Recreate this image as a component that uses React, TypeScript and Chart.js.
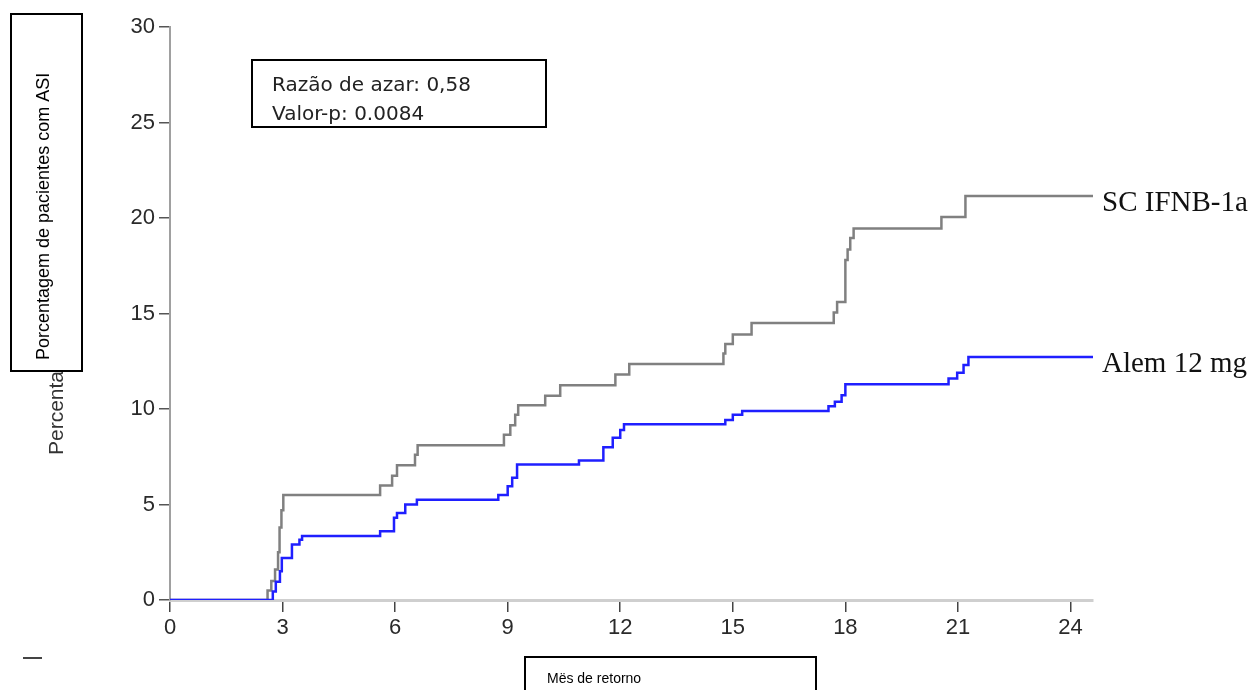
import React, { useEffect, useRef } from "react";
import { Chart, registerables } from "chart.js";

Chart.register(...registerables);

// Kaplan-Meier style cumulative curves (month, percent)
const grayMonths = [0, 2.6, 2.7, 2.8, 2.88, 2.92, 2.97, 3.02, 5.6, 5.92, 6.05, 6.53, 6.6, 8.9, 9.07, 9.2, 9.28, 10.0, 10.4, 11.87, 12.24, 14.75, 14.8, 15.0, 15.5, 17.69, 17.78, 18.0, 18.06, 18.13, 18.22, 20.56, 21.2, 24.6];
const grayPct = [0, 0.5, 1.0, 1.6, 2.5, 3.8, 4.7, 5.5, 6.0, 6.5, 7.05, 7.6, 8.1, 8.65, 9.15, 9.7, 10.2, 10.7, 11.25, 11.8, 12.35, 12.9, 13.4, 13.9, 14.5, 15.05, 15.6, 17.8, 18.35, 18.95, 19.45, 20.05, 21.15, 21.15];

const blueMonths = [0, 2.74, 2.82, 2.93, 2.98, 3.25, 3.45, 3.52, 5.6, 5.97, 6.05, 6.27, 6.58, 8.75, 9.0, 9.12, 9.25, 10.9, 11.55, 11.8, 12.0, 12.1, 14.8, 15.0, 15.25, 17.55, 17.72, 17.9, 18.0, 20.75, 20.98, 21.15, 21.28, 24.6];
const bluePct = [0, 0.45, 0.95, 1.5, 2.2, 2.9, 3.15, 3.35, 3.6, 4.3, 4.55, 5.0, 5.25, 5.5, 5.95, 6.4, 7.1, 7.3, 8.0, 8.5, 8.9, 9.2, 9.42, 9.7, 9.9, 10.15, 10.38, 10.72, 11.3, 11.6, 11.9, 12.3, 12.72, 12.72];

const xTicks = [0, 3, 6, 9, 12, 15, 18, 21, 24];
const yTicks = [0, 5, 10, 15, 20, 25, 30];

const seriesNames = ["Alem 12 mg", "SC IFNB-1a"];
const yTitle = "Porcentagem de pacientes com ASI";
const hiddenYTitle = "Percentage";
const xTitle = "Mës de retorno";
const statLines = ["Razão de azar: 0,58", "Valor-p: 0.0084"];

const SANS = "'Liberation Sans', Arial, sans-serif";
const SERIF = "'Liberation Serif', 'Times New Roman', serif";

const overlayPlugin = {
  id: "overlay",
  afterDraw(chart: any) {
    const ctx = chart.ctx as CanvasRenderingContext2D;
    const area = chart.chartArea;
    ctx.save();

    // series end labels
    chart.data.datasets.forEach((ds: any) => {
      const last = ds.data[ds.data.length - 1];
      const y = chart.scales.y.getPixelForValue(last.y);
      ctx.font = `29px ${SERIF}`;
      ctx.fillStyle = "#111";
      ctx.textAlign = "left";
      ctx.textBaseline = "alphabetic";
      ctx.fillText(ds.label, area.right + 9, y + 15);
    });

    // partially hidden original axis title
    ctx.save();
    ctx.translate(63, 455);
    ctx.rotate(-Math.PI / 2);
    ctx.font = `21px ${SANS}`;
    ctx.fillStyle = "#333";
    ctx.textAlign = "left";
    ctx.textBaseline = "alphabetic";
    ctx.fillText(hiddenYTitle, 0, 0);
    ctx.restore();

    // y title box
    ctx.fillStyle = "#fff";
    ctx.fillRect(10, 13, 73, 359);
    ctx.strokeStyle = "#000";
    ctx.lineWidth = 2;
    ctx.strokeRect(11, 14, 71, 357);
    ctx.save();
    ctx.translate(48.5, 360);
    ctx.rotate(-Math.PI / 2);
    ctx.font = `18px ${SANS}`;
    ctx.fillStyle = "#000";
    ctx.textAlign = "left";
    ctx.textBaseline = "alphabetic";
    ctx.fillText(yTitle, 0, 0);
    ctx.restore();

    // statistics box
    ctx.fillStyle = "#fff";
    ctx.fillRect(251, 59, 296, 69);
    ctx.strokeStyle = "#000";
    ctx.lineWidth = 2;
    ctx.strokeRect(252, 60, 294, 67);
    ctx.save();
    ctx.beginPath();
    ctx.rect(253, 61, 292, 65);
    ctx.clip();
    ctx.font = `20px 'DejaVu Sans', sans-serif`;
    ctx.fillStyle = "#222";
    ctx.textAlign = "left";
    ctx.textBaseline = "alphabetic";
    ctx.fillText(statLines[0], 272, 91);
    ctx.fillText(statLines[1], 272, 120);
    ctx.restore();

    // x title box
    ctx.fillStyle = "#fff";
    ctx.fillRect(524, 656, 293, 40);
    ctx.strokeStyle = "#000";
    ctx.lineWidth = 2;
    ctx.strokeRect(525, 657, 291, 50);
    ctx.font = `14px ${SANS}`;
    ctx.fillStyle = "#000";
    ctx.fillText(xTitle, 547, 683);

    // small dash at bottom-left
    ctx.fillStyle = "#444";
    ctx.fillRect(23, 657, 19, 2);

    ctx.restore();
  },
};

export default function App() {
  const ref = useRef<HTMLCanvasElement | null>(null);

  useEffect(() => {
    if (!ref.current) return;
    const chart = new Chart(ref.current, {
      type: "line",
      data: {
        datasets: [
          {
            label: seriesNames[0],
            data: blueMonths.map((m, i) => ({ x: m, y: bluePct[i] })),
            borderColor: "#1f1fff",
            borderWidth: 2.5,
            pointRadius: 0,
            stepped: "before",
            fill: false,
          },
          {
            label: seriesNames[1],
            data: grayMonths.map((m, i) => ({ x: m, y: grayPct[i] })),
            borderColor: "#808080",
            borderWidth: 2.5,
            pointRadius: 0,
            stepped: "before",
            fill: false,
          },
        ],
      },
      options: {
        animation: false,
        responsive: false,
        devicePixelRatio: 1,
        layout: { padding: { left: 0, top: 27, right: 159, bottom: 0 } },
        plugins: {
          legend: { display: false },
          tooltip: { enabled: false },
        },
        scales: {
          x: {
            type: "linear",
            min: 0,
            max: 24.6,
            afterBuildTicks: (scale: any) => {
              scale.ticks = xTicks.map((v) => ({ value: v }));
            },
            afterFit: (scale: any) => {
              scale.height = 90;
            },
            ticks: {
              font: { family: SANS, size: 22 },
              color: "#2a2a2a",
              padding: 3,
              maxRotation: 0,
              autoSkip: false,
            },
            grid: {
              drawOnChartArea: false,
              drawTicks: true,
              tickLength: 12,
              color: "#444",
              lineWidth: 1.5,
            },
            border: { display: true, color: "#cfcfcf", width: 3 },
          },
          y: {
            type: "linear",
            min: 0,
            max: 30,
            afterBuildTicks: (scale: any) => {
              scale.ticks = yTicks.map((v) => ({ value: v }));
            },
            afterFit: (scale: any) => {
              scale.width = 170;
            },
            ticks: {
              font: { family: SANS, size: 22 },
              color: "#2a2a2a",
              padding: 4,
              autoSkip: false,
            },
            grid: {
              drawOnChartArea: false,
              drawTicks: true,
              tickLength: 11,
              color: "#555",
              lineWidth: 1.5,
            },
            border: { display: true, color: "#a0a0a0", width: 2 },
          },
        },
      },
      plugins: [overlayPlugin],
    });
    return () => chart.destroy();
  }, []);

  return (
    <div style={{ position: "absolute", left: 0, top: 0, width: 1252, height: 690, background: "#fff" }}>
      <canvas ref={ref} width={1252} height={690} />
    </div>
  );
}
